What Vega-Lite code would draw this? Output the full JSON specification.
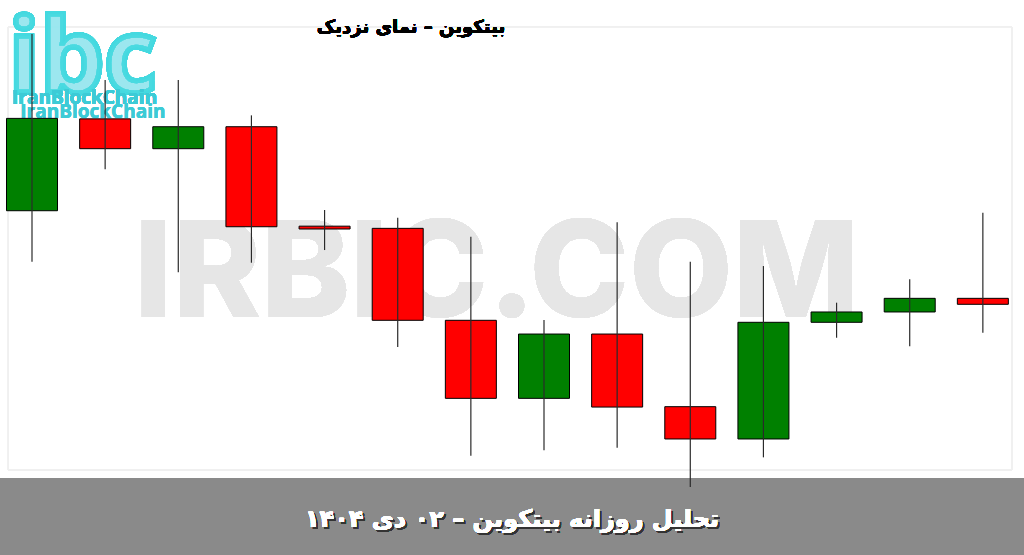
{
  "$schema": "https://vega.github.io/schema/vega-lite/v6.json",
  "width": 1024,
  "height": 555,
  "autosize": "none",
  "padding": 0,
  "background": "#ffffff",
  "config": {
    "view": {"stroke": null},
    "scale": {"continuousPadding": 0},
    "axis": {"labels": false, "ticks": false, "domain": false, "title": null, "minExtent": 0, "maxExtent": 0, "gridColor": "#f0f0f0", "gridWidth": 1}
  },
  "data": {
    "values": [
      {"day": 1, "open": 88015, "high": 89880, "low": 87475, "close": 88990},
      {"day": 2, "open": 88985, "high": 89395, "low": 88452, "close": 88670},
      {"day": 3, "open": 88670, "high": 89395, "low": 87365, "close": 88902},
      {"day": 4, "open": 88902, "high": 89022, "low": 87466, "close": 87846},
      {"day": 5, "open": 87852, "high": 88023, "low": 87600, "close": 87822},
      {"day": 6, "open": 87829, "high": 87941, "low": 86576, "close": 86858},
      {"day": 7, "open": 86858, "high": 87741, "low": 85428, "close": 86034},
      {"day": 8, "open": 86034, "high": 86861, "low": 85485, "close": 86713},
      {"day": 9, "open": 86713, "high": 87893, "low": 85513, "close": 85942},
      {"day": 10, "open": 85946, "high": 87477, "low": 85098, "close": 85605},
      {"day": 11, "open": 85605, "high": 87431, "low": 85411, "close": 86837},
      {"day": 12, "open": 86837, "high": 87044, "low": 86674, "close": 86946},
      {"day": 13, "open": 86946, "high": 87291, "low": 86583, "close": 87090},
      {"day": 14, "open": 87090, "high": 87994, "low": 86727, "close": 87027}
    ]
  },
  "layer": [
    {
      "mark": {"type": "rect", "fill": null, "stroke": "#f0f0f0", "strokeWidth": 1},
      "encoding": {
        "x": {"datum": 0.672, "type": "quantitative", "scale": {"domain": [0.5625, 14.5625], "nice": false, "zero": false, "padding": 0},
              "axis": {"grid": true, "values": [1, 5.21, 9.29, 13.5]}},
        "x2": {"datum": 14.399},
        "y": {"datum": 89955, "type": "quantitative", "scale": {"domain": [84380, 90240], "nice": false, "zero": false, "padding": 0},
              "axis": {"grid": true, "values": [85500, 86000, 86500, 87000, 87500, 88000, 88500, 89000, 89500]}},
        "y2": {"datum": 85277}
      }
    },
    {
      "mark": {"type": "text", "text": "IRBIC.COM", "font": "Inter", "fontWeight": 800, "fontSize": 134, "color": "#e6e6e6", "align": "center", "baseline": "middle"},
      "encoding": {
        "x": {"datum": 7.353, "type": "quantitative", "scale": {"domain": [0.5625, 14.5625], "nice": false, "zero": false, "padding": 0}, "axis": null},
        "y": {"datum": 87315, "type": "quantitative", "scale": {"domain": [84380, 90240], "nice": false, "zero": false, "padding": 0}, "axis": null}
      }
    },
    {
      "mark": {"type": "text", "text": "ibc", "font": "Open Sans", "fontWeight": "bold", "fontSize": 102, "fill": "#8be8ee", "fillOpacity": 0.12, "stroke": "#45d8e0", "strokeWidth": 5, "strokeOpacity": 0.6, "align": "left", "baseline": "alphabetic"},
      "encoding": {
        "x": {"datum": 0.68, "type": "quantitative", "scale": {"domain": [0.5625, 14.5625], "nice": false, "zero": false, "padding": 0}, "axis": null},
        "y": {"datum": 89269, "type": "quantitative", "scale": {"domain": [84380, 90240], "nice": false, "zero": false, "padding": 0}, "axis": null}
      }
    },
    {
      "mark": {"type": "text", "text": "IranBlockChain", "font": "Open Sans", "fontWeight": "bold", "fontSize": 19, "color": "#3ccbd6", "align": "left", "baseline": "alphabetic"},
      "encoding": {
        "x": {"datum": 0.7266, "type": "quantitative", "scale": {"domain": [0.5625, 14.5625], "nice": false, "zero": false, "padding": 0}, "axis": null},
        "y": {"datum": 89142, "type": "quantitative", "scale": {"domain": [84380, 90240], "nice": false, "zero": false, "padding": 0}, "axis": null}
      }
    },
    {
      "mark": {"type": "text", "text": "IranBlockChain", "font": "Open Sans", "fontWeight": "bold", "fontSize": 19, "color": "#3ccbd6", "opacity": 0.3, "align": "left", "baseline": "alphabetic"},
      "encoding": {
        "x": {"datum": 0.84, "type": "quantitative", "scale": {"domain": [0.5625, 14.5625], "nice": false, "zero": false, "padding": 0}, "axis": null},
        "y": {"datum": 88995, "type": "quantitative", "scale": {"domain": [84380, 90240], "nice": false, "zero": false, "padding": 0}, "axis": null}
      }
    },
    {
      "mark": {"type": "text", "text": "بیتکوین – نمای نزدیک", "font": "DejaVu Sans", "fontWeight": "bold", "fontSize": 18, "color": "#000000", "align": "center", "baseline": "middle"},
      "encoding": {
        "x": {"datum": 6.182, "type": "quantitative", "scale": {"domain": [0.5625, 14.5625], "nice": false, "zero": false, "padding": 0}, "axis": null},
        "y": {"datum": 89944, "type": "quantitative", "scale": {"domain": [84380, 90240], "nice": false, "zero": false, "padding": 0}, "axis": null}
      }
    },
    {
      "mark": {"type": "rect", "fill": "#8a8a8a"},
      "encoding": {
        "x": {"datum": 0.5625, "type": "quantitative", "scale": {"domain": [0.5625, 14.5625], "nice": false, "zero": false, "padding": 0}, "axis": null},
        "x2": {"datum": 14.5625},
        "y": {"datum": 85193, "type": "quantitative", "scale": {"domain": [84380, 90240], "nice": false, "zero": false, "padding": 0}, "axis": null},
        "y2": {"datum": 84380}
      }
    },
    {
      "mark": {"type": "bar", "size": 51, "stroke": "#000000", "strokeWidth": 1},
      "encoding": {
        "x": {"field": "day", "type": "quantitative", "scale": {"domain": [0.5625, 14.5625], "nice": false, "zero": false, "padding": 0}, "axis": null},
        "y": {"field": "open", "type": "quantitative", "scale": {"domain": [84380, 90240], "nice": false, "zero": false, "padding": 0}, "axis": null},
        "y2": {"field": "close"},
        "color": {"condition": {"test": "datum.close > datum.open", "value": "#008000"}, "value": "#ff0000"}
      }
    },
    {
      "mark": {"type": "rule", "color": "#2a2a2a", "strokeWidth": 1.2},
      "encoding": {
        "x": {"field": "day", "type": "quantitative", "scale": {"domain": [0.5625, 14.5625], "nice": false, "zero": false, "padding": 0}, "axis": null},
        "y": {"field": "low", "type": "quantitative", "scale": {"domain": [84380, 90240], "nice": false, "zero": false, "padding": 0}, "axis": null},
        "y2": {"field": "high"}
      }
    },
    {
      "mark": {"type": "text", "text": "تحلیل روزانه بیتکوین – ۰۲ دی ۱۴۰۴", "font": "DejaVu Sans", "fontWeight": "bold", "fontSize": 24, "color": "#333333", "align": "center", "baseline": "middle", "dx": 2, "dy": 2},
      "encoding": {
        "x": {"datum": 7.5625, "type": "quantitative", "scale": {"domain": [0.5625, 14.5625], "nice": false, "zero": false, "padding": 0}, "axis": null},
        "y": {"datum": 84749, "type": "quantitative", "scale": {"domain": [84380, 90240], "nice": false, "zero": false, "padding": 0}, "axis": null}
      }
    },
    {
      "mark": {"type": "text", "text": "تحلیل روزانه بیتکوین – ۰۲ دی ۱۴۰۴", "font": "DejaVu Sans", "fontWeight": "bold", "fontSize": 24, "color": "#ffffff", "align": "center", "baseline": "middle"},
      "encoding": {
        "x": {"datum": 7.5625, "type": "quantitative", "scale": {"domain": [0.5625, 14.5625], "nice": false, "zero": false, "padding": 0}, "axis": null},
        "y": {"datum": 84749, "type": "quantitative", "scale": {"domain": [84380, 90240], "nice": false, "zero": false, "padding": 0}, "axis": null}
      }
    }
  ]
}
